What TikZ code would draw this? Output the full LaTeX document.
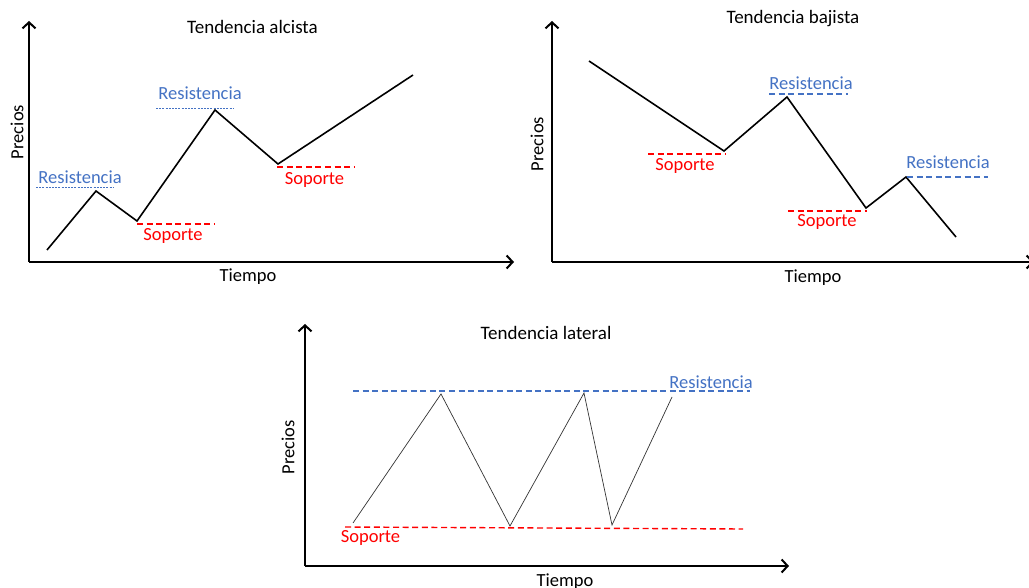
\documentclass[tikz,border=0pt]{standalone}
\usepackage{fontspec}
\setmainfont{Carlito}
\usetikzlibrary{arrows.meta}
\definecolor{resblue}{HTML}{4472C4}
\definecolor{supred}{HTML}{FF0000}
\tikzset{
  axis/.style={line width=2pt, -{Straight Barb[length=6pt,width=13pt,line width=2pt]}},
  price/.style={line width=1.6pt, line join=miter},
  pricethin/.style={line width=0.7pt, draw=black!80},
  resline/.style={draw=resblue, line width=1.4pt, dash pattern=on 6pt off 3.6pt},
  resdot/.style={draw=resblue, line width=0.8pt, dash pattern=on 2pt off 1.2pt},
  supline/.style={draw=supred, line width=1.4pt, dash pattern=on 6pt off 3.6pt},
  restext/.style={text=resblue, font=\fontsize{18.5}{20}\selectfont, inner sep=0pt},
  suptext/.style={text=supred, font=\fontsize{18.5}{20}\selectfont, inner sep=0pt},
  title/.style={font=\fontsize{19}{21}\selectfont, inner sep=0pt},
  axlabel/.style={font=\fontsize{18.5}{20}\selectfont, inner sep=0pt},
}
\begin{document}
\begin{tikzpicture}[x=1pt,y=-1pt]
\useasboundingbox[fill=white] (0,0) rectangle (1029,588);

% ---------- Panel 1: Tendencia alcista ----------
\coordinate (o1) at (29,262);
\coordinate (y1) at (29,21);
\coordinate (x1) at (514,262);
\draw[axis] (o1) -- (y1);
\draw[axis] (o1) -- (x1);
\node[title] (t1) at (252.5,27) {Tendencia alcista};
\node[axlabel] (tx1) at (248,277) {Tiempo};
\node[axlabel, rotate=90] (ty1) at (17,132) {Precios};
\coordinate (a1) at (47,250);
\coordinate (a2) at (96,191);
\coordinate (a3) at (137,221);
\coordinate (a4) at (215,110);
\coordinate (a5) at (278,164);
\coordinate (a6) at (413,75);
\draw[price] (a1) -- (a2) -- (a3) -- (a4) -- (a5) -- (a6);
\coordinate (r1a) at (36,187); \coordinate (r1b) at (113,187);
\draw[resdot] (r1a) -- (r1b);
\node[restext] (r1) at (80,177) {Resistencia};
\coordinate (r2a) at (156,108); \coordinate (r2b) at (233,108);
\draw[resdot] (r2a) -- (r2b);
\node[restext] (r2) at (200,93) {Resistencia};
\coordinate (s1a) at (137,224); \coordinate (s1b) at (214,224);
\draw[supline] (s1a) -- (s1b);
\node[suptext] (s1) at (173,236) {Soporte};
\coordinate (s2a) at (277,167); \coordinate (s2b) at (354,167);
\draw[supline] (s2a) -- (s2b);
\node[suptext] (s2) at (314.5,180) {Soporte};

% ---------- Panel 2: Tendencia bajista ----------
\coordinate (o2) at (552,262);
\coordinate (y2) at (552,21);
\coordinate (x2) at (1034,262);
\draw[axis] (o2) -- (y2);
\draw[axis] (o2) -- (x2);
\node[title] (t2) at (793,19) {Tendencia bajista};
\node[axlabel] (tx2) at (813,278) {Tiempo};
\node[axlabel, rotate=90] (ty2) at (537,144) {Precios};
\coordinate (b1) at (589,61);
\coordinate (b2) at (724,151);
\coordinate (b3) at (787,97);
\coordinate (b4) at (866,208);
\coordinate (b5) at (906,177);
\coordinate (b6) at (956,237);
\draw[price] (b1) -- (b2) -- (b3) -- (b4) -- (b5) -- (b6);
\coordinate (r3a) at (769,94); \coordinate (r3b) at (848,94);
\draw[resline] (r3a) -- (r3b);
\node[restext] (r3) at (811,83) {Resistencia};
\coordinate (r4a) at (907,177); \coordinate (r4b) at (988,177);
\draw[resline] (r4a) -- (r4b);
\node[restext] (r4) at (948,162) {Resistencia};
\coordinate (s3a) at (648,154); \coordinate (s3b) at (726,154);
\draw[supline] (s3a) -- (s3b);
\node[suptext] (s3) at (685,166) {Soporte};
\coordinate (s4a) at (788,211); \coordinate (s4b) at (867,211);
\draw[supline] (s4a) -- (s4b);
\node[suptext] (s4) at (827,222) {Soporte};

% ---------- Panel 3: Tendencia lateral ----------
\coordinate (o3) at (305,566);
\coordinate (y3) at (305,324);
\coordinate (x3) at (789,566);
\draw[axis] (o3) -- (y3);
\draw[axis] (o3) -- (x3);
\node[title] (t3) at (546,333) {Tendencia lateral};
\node[axlabel] (tx3) at (565,582) {Tiempo};
\node[axlabel, rotate=90] (ty3) at (288,447.5) {Precios};
\coordinate (c1) at (353,523);
\coordinate (c2) at (441,394);
\coordinate (c3) at (510,526);
\coordinate (c4) at (584,393);
\coordinate (c5) at (612,525);
\coordinate (c6) at (672,397);
\draw[pricethin] (c1) -- (c2) -- (c3) -- (c4) -- (c5) -- (c6);
\coordinate (r5a) at (353,391); \coordinate (r5b) at (750,391);
\draw[resline] (r5a) -- (r5b);
\node[restext] (r5) at (711,382) {Resistencia};
\coordinate (s5a) at (345,527); \coordinate (s5b) at (743,529);
\draw[supline] (s5a) -- (s5b);
\node[suptext] (s5) at (370.5,538) {Soporte};
\end{tikzpicture}
\end{document}
